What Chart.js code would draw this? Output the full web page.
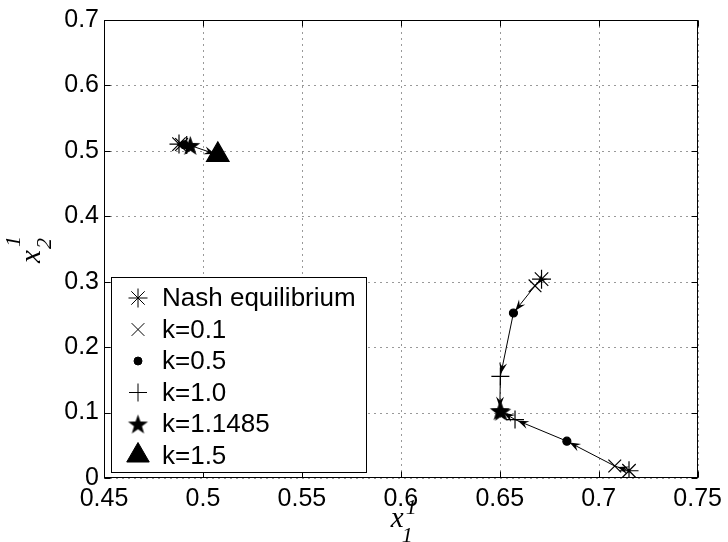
<!DOCTYPE html>
<html>
<head>
<meta charset="utf-8">
<script src="https://cdn.jsdelivr.net/npm/chart.js@4.4.0/dist/chart.umd.min.js"></script>
<style>
  html, body { margin: 0; padding: 0; background: #fff; }
</style>
</head>
<body>
<canvas id="chart" width="728" height="542"></canvas>
<script>
// values: x = x_1^1, y = x_2^1
// one entry per trajectory (upper left, lower right, upper right)
const legendLabels = ['Nash equilibrium', 'k=0.1', 'k=0.5', 'k=1.0', 'k=1.1485', 'k=1.5'];

const nashX = [0.4879, 0.7153, 0.6711];
const nashY = [0.5103, 0.0111, 0.3039];
const k01X = [0.4892, 0.7081, 0.6678];
const k01Y = [0.5098, 0.0183, 0.2937];
const k05X = [0.4905, 0.6839, 0.6569];
const k05Y = [0.5093, 0.0563, 0.2522];
const k10X = [0.4918, 0.6577, 0.6503];
const k10Y = [0.5088, 0.0893, 0.1552];
const k11X = [0.4936, 0.6507, 0.6500];
const k11Y = [0.5083, 0.1020, 0.1030];
const k15X = [0.5075];
const k15Y = [0.4938];

const xTicks = [0.45, 0.5, 0.55, 0.6, 0.65, 0.7, 0.75];
const yTicks = [0, 0.1, 0.2, 0.3, 0.4, 0.5, 0.6, 0.7];

const seriesX = [nashX, k01X, k05X, k10X, k11X, k15X];
const seriesY = [nashY, k01Y, k05Y, k10Y, k11Y, k15Y];

// filled five point star (matlab 'pentagram')
function makeStar(R) {
  const c = document.createElement('canvas');
  const s = Math.ceil(R * 2 + 2);
  c.width = s; c.height = s;
  const g = c.getContext('2d');
  g.translate(s / 2, s / 2 + 1);
  g.beginPath();
  for (let i = 0; i < 10; i++) {
    const r = i % 2 === 0 ? R : R * 0.4;
    const a = -Math.PI / 2 + i * Math.PI / 5;
    g.lineTo(r * Math.cos(a), r * Math.sin(a));
  }
  g.closePath();
  g.fillStyle = '#000';
  g.fill();
  return c;
}

const markerStyle = [
  { style: 'star', r: 9.5 },
  { style: 'crossRot', r: 9 },
  { style: 'circle', r: 4 },
  { style: 'cross', r: 9 },
  { style: makeStar(10.5), r: 10 },
  { style: 'triangle', r: 13 },
];

const markerSets = legendLabels.map((label, j) => ({
  label: label,
  data: seriesX[j].map((x, i) => ({ x: x, y: seriesY[j][i] })),
  showLine: false,
  pointStyle: markerStyle[j].style,
  pointRadius: markerStyle[j].r,
  pointHoverRadius: markerStyle[j].r,
  pointBackgroundColor: '#000',
  pointBorderColor: '#000',
  pointBorderWidth: 1.2,
  order: 0,
}));

// path through the k values of each trajectory
const pathSets = nashX.map((_, i) => ({
  label: '',
  isPath: true,
  data: seriesX
    .map((xs, j) => (xs[i] === undefined ? null : { x: xs[i], y: seriesY[j][i] }))
    .filter(Boolean),
  showLine: true,
  borderColor: '#000',
  borderWidth: 1,
  pointRadius: 0,
  order: 1,
}));

// arrow heads at the end of every segment
const arrowPlugin = {
  id: 'arrows',
  afterDatasetDraw(chart, args) {
    const ds = chart.data.datasets[args.index];
    if (!ds.isPath) return;
    const ctx = chart.ctx;
    const xs = chart.scales.x, ys = chart.scales.y;
    ctx.save();
    ctx.fillStyle = '#000';
    for (let i = 1; i < ds.data.length; i++) {
      const x0 = xs.getPixelForValue(ds.data[i - 1].x), y0 = ys.getPixelForValue(ds.data[i - 1].y);
      const x1 = xs.getPixelForValue(ds.data[i].x), y1 = ys.getPixelForValue(ds.data[i].y);
      const dx = x1 - x0, dy = y1 - y0, len = Math.hypot(dx, dy);
      if (len < 8) continue;
      const ux = dx / len, uy = dy / len;
      const tx = x1 - ux * 3, ty = y1 - uy * 3;
      const L = 11, W = 4, N = 7;
      ctx.beginPath();
      ctx.moveTo(tx, ty);
      ctx.lineTo(tx - ux * L - uy * W, ty - uy * L + ux * W);
      ctx.lineTo(tx - ux * N, ty - uy * N);
      ctx.lineTo(tx - ux * L + uy * W, ty - uy * L - ux * W);
      ctx.closePath();
      ctx.fill();
    }
    ctx.restore();
  }
};

// dotted grid, solid box and inward tick marks
const framePlugin = {
  id: 'frame',
  beforeDatasetsDraw(chart) {
    const { ctx, chartArea: a, scales } = chart;
    const L = Math.round(a.left) + 0.5, R = Math.round(a.right) - 0.5;
    const T = Math.round(a.top) + 0.5, B = Math.round(a.bottom) - 0.5;
    ctx.save();
    ctx.lineWidth = 1;
    ctx.strokeStyle = '#333';
    ctx.setLineDash([1, 5]);
    ctx.beginPath();
    xTicks.forEach(v => {
      const p = Math.round(scales.x.getPixelForValue(v)) + 0.5;
      ctx.moveTo(p, B); ctx.lineTo(p, T);
    });
    yTicks.forEach(v => {
      const p = Math.round(scales.y.getPixelForValue(v)) + 0.5;
      ctx.moveTo(L, p); ctx.lineTo(R, p);
    });
    ctx.stroke();
    ctx.setLineDash([]);
    ctx.strokeStyle = '#000';
    ctx.strokeRect(L, T, R - L, B - T);
    ctx.beginPath();
    xTicks.forEach(v => {
      const p = Math.round(scales.x.getPixelForValue(v)) + 0.5;
      ctx.moveTo(p, B); ctx.lineTo(p, B - 6);
      ctx.moveTo(p, T); ctx.lineTo(p, T + 6);
    });
    yTicks.forEach(v => {
      const p = Math.round(scales.y.getPixelForValue(v)) + 0.5;
      ctx.moveTo(L, p); ctx.lineTo(L + 6, p);
      ctx.moveTo(R, p); ctx.lineTo(R - 6, p);
    });
    ctx.stroke();
    ctx.restore();
  }
};

// boxed legend in the lower left of the axes
const legendPlugin = {
  id: 'boxLegend',
  afterDatasetsDraw(chart) {
    const { ctx, chartArea: a } = chart;
    const items = chart.data.datasets.filter(d => !d.isPath);
    const w = 255, h = 195, rowH = 31.5;
    const x0 = Math.round(a.left) + 7, y0 = Math.round(a.bottom) - 6 - h;
    ctx.save();
    ctx.fillStyle = '#fff';
    ctx.fillRect(x0, y0, w, h);
    ctx.strokeStyle = '#000';
    ctx.lineWidth = 1;
    ctx.strokeRect(x0 + 0.5, y0 + 0.5, w, h);
    items.forEach((d, i) => {
      const cy = y0 + 21 + i * rowH;
      ctx.fillStyle = '#000';
      ctx.strokeStyle = '#000';
      ctx.lineWidth = 1;
      Chart.helpers.drawPoint(ctx, {
        pointStyle: d.pointStyle, radius: d.pointRadius, rotation: 0, borderWidth: 1
      }, x0 + 27, cy);
      ctx.font = '26px "Liberation Sans", Arial, sans-serif';
      ctx.textBaseline = 'middle';
      ctx.textAlign = 'left';
      ctx.fillText(d.label, x0 + 51, cy + 1);
    });
    ctx.restore();
  }
};

// x_1^1 and x_2^1 axis titles
function scriptLabel(ctx, sub, sup, subPos, supPos) {
  ctx.font = 'italic 29px "Liberation Serif", "DejaVu Serif", serif';
  ctx.textBaseline = 'alphabetic';
  ctx.textAlign = 'left';
  ctx.fillText('x', 0, 0);
  ctx.font = 'italic 22px "Liberation Serif", "DejaVu Serif", serif';
  ctx.fillText(sup, supPos[0], supPos[1]);
  ctx.fillText(sub, subPos[0], subPos[1]);
}
const titlePlugin = {
  id: 'titles',
  afterDraw(chart) {
    const { ctx, chartArea: a } = chart;
    const cx = (a.left + a.right) / 2;
    const cy = (a.top + a.bottom) / 2;
    ctx.save();
    ctx.fillStyle = '#000';
    ctx.translate(cx - 10, 527);
    scriptLabel(ctx, '1', '1', [11, 15], [15, -13]);
    ctx.restore();
    ctx.save();
    ctx.fillStyle = '#000';
    ctx.translate(40, cy + 14);
    ctx.rotate(-Math.PI / 2);
    scriptLabel(ctx, '2', '1', [14, 11], [16, -20]);
    ctx.restore();
  }
};

const tickFont = { family: '"Liberation Sans", Arial, sans-serif', size: 25 };
const fmt = v => String(+v.toFixed(2));

new Chart(document.getElementById('chart'), {
  type: 'scatter',
  data: { datasets: markerSets.concat(pathSets) },
  options: {
    responsive: false,
    animation: false,
    events: [],
    layout: { padding: { left: 0, right: 28, top: 18, bottom: 0 } },
    plugins: { legend: { display: false }, tooltip: { enabled: false } },
    scales: {
      x: {
        type: 'linear',
        min: 0.45,
        max: 0.75,
        afterBuildTicks: s => { s.ticks = xTicks.map(v => ({ value: v })); },
        afterFit: s => { s.height = 64; },
        ticks: { color: '#000', font: tickFont, padding: 6, callback: fmt, maxRotation: 0 },
        grid: { display: false, drawTicks: false },
        border: { display: false },
      },
      y: {
        type: 'linear',
        min: 0,
        max: 0.7,
        afterBuildTicks: s => { s.ticks = yTicks.map(v => ({ value: v })); },
        afterFit: s => { s.width = 104; },
        ticks: { color: '#000', font: tickFont, padding: 5, callback: fmt },
        grid: { display: false, drawTicks: false },
        border: { display: false },
      },
    },
  },
  plugins: [framePlugin, arrowPlugin, legendPlugin, titlePlugin],
});
</script>
</body>
</html>
